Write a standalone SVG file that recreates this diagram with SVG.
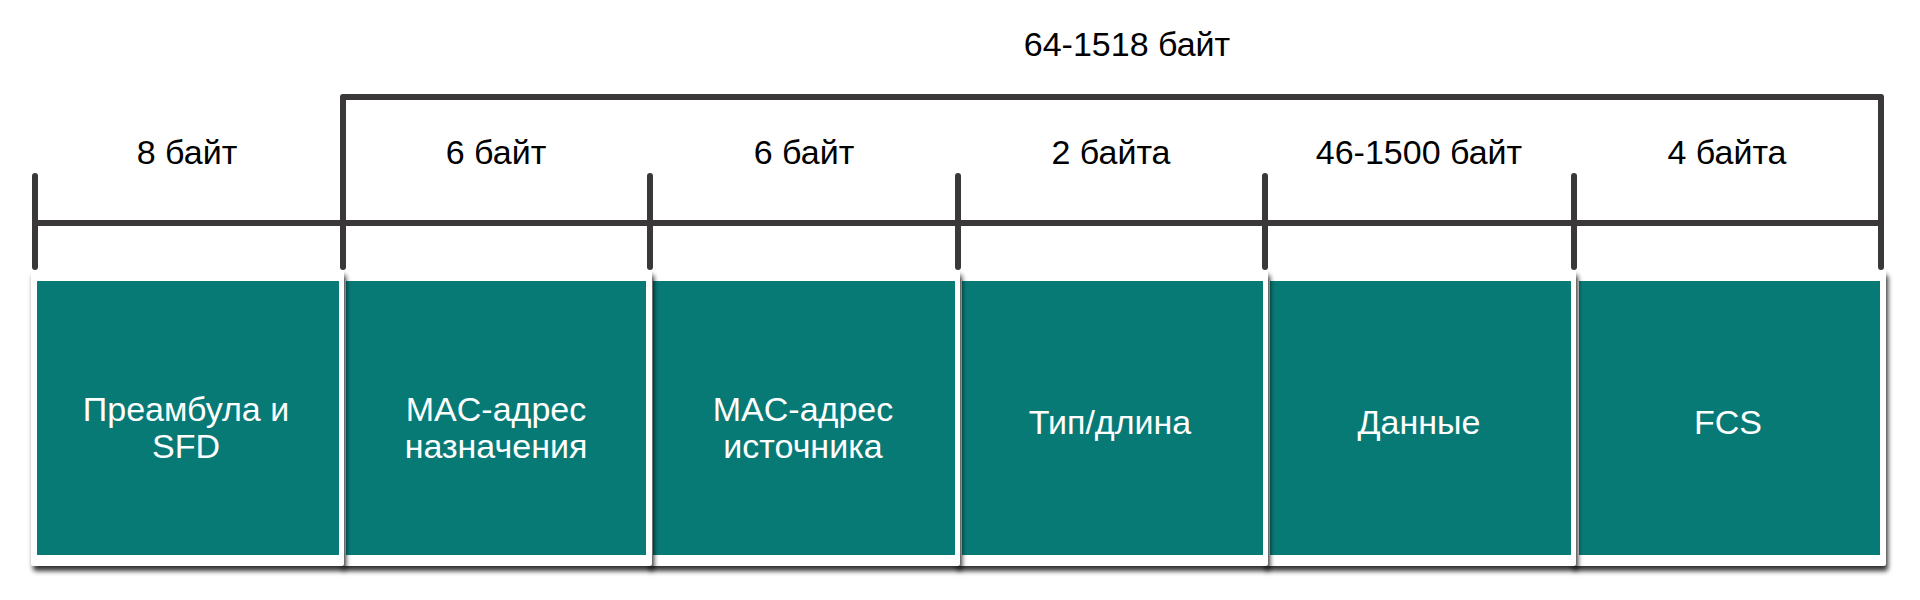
<svg xmlns="http://www.w3.org/2000/svg" width="1920" height="600" viewBox="0 0 1920 600">
  <defs>
    <filter id="shadow" x="-5%" y="-5%" width="115%" height="120%">
      <feDropShadow dx="2" dy="5" stdDeviation="2.5" flood-color="#000" flood-opacity="0.8"/>
    </filter>
  </defs>
  <style>
    .line { stroke: #3b3839; stroke-width: 6; stroke-linecap: round; stroke-linejoin: round; fill: none; }
    .size { font-family: "Liberation Sans", Arial, sans-serif; font-size: 34px; fill: #000; text-anchor: middle; }
    .card { fill: #ffffff; filter: url(#shadow); }
    .field { fill: #087a76; }
    .lbl { font-family: "Liberation Sans", Arial, sans-serif; font-size: 34px; fill: #ffffff; text-anchor: middle; }
  </style>
  <rect width="1920" height="600" fill="#ffffff"/>

  <g id="connectors">
    <line class="line" x1="35" y1="223" x2="1881" y2="223"/>
    <path class="line" d="M343 267 V97 H1881 V267"/>
    <line class="line" x1="35" y1="176" x2="35" y2="267"/>
    <line class="line" x1="650" y1="176" x2="650" y2="267"/>
    <line class="line" x1="958" y1="176" x2="958" y2="267"/>
    <line class="line" x1="1265" y1="176" x2="1265" y2="267"/>
    <line class="line" x1="1574" y1="176" x2="1574" y2="267"/>
  </g>

  <g id="sizes">
    <text class="size" x="1127" y="56">64-1518 байт</text>
    <text class="size" x="187" y="164">8 байт</text>
    <text class="size" x="496" y="164">6 байт</text>
    <text class="size" x="804" y="164">6 байт</text>
    <text class="size" x="1111" y="164">2 байта</text>
    <text class="size" x="1419" y="164">46-1500 байт</text>
    <text class="size" x="1727" y="164">4 байта</text>
  </g>

  <g id="fcs">
    <rect class="card" x="1571" y="270" width="315" height="296" rx="3"/>
    <rect class="field" x="1579" y="281" width="301" height="274"/>
    <text class="lbl" x="1728" y="434">FCS</text>
  </g>
  <g id="data">
    <rect class="card" x="1263" y="270" width="313" height="296" rx="3"/>
    <rect class="field" x="1270" y="281" width="301" height="274"/>
    <text class="lbl" x="1419" y="434">Данные</text>
  </g>
  <g id="type-length">
    <rect class="card" x="955" y="270" width="313" height="296" rx="3"/>
    <rect class="field" x="962" y="281" width="301" height="274"/>
    <text class="lbl" x="1110" y="434">Тип/длина</text>
  </g>
  <g id="src-mac">
    <rect class="card" x="647" y="270" width="313" height="296" rx="3"/>
    <rect class="field" x="653" y="281" width="302" height="274"/>
    <text class="lbl" x="803" y="421">MAC-адрес</text>
    <text class="lbl" x="803" y="458">источника</text>
  </g>
  <g id="dst-mac">
    <rect class="card" x="340" y="270" width="312" height="296" rx="3"/>
    <rect class="field" x="346" y="281" width="300" height="274"/>
    <text class="lbl" x="496" y="421">MAC-адрес</text>
    <text class="lbl" x="496" y="458">назначения</text>
  </g>
  <g id="preamble">
    <rect class="card" x="31" y="270" width="313" height="296" rx="3"/>
    <rect class="field" x="37" y="281" width="302" height="274"/>
    <text class="lbl" x="186" y="421">Преамбула и</text>
    <text class="lbl" x="186" y="458">SFD</text>
  </g>
</svg>
